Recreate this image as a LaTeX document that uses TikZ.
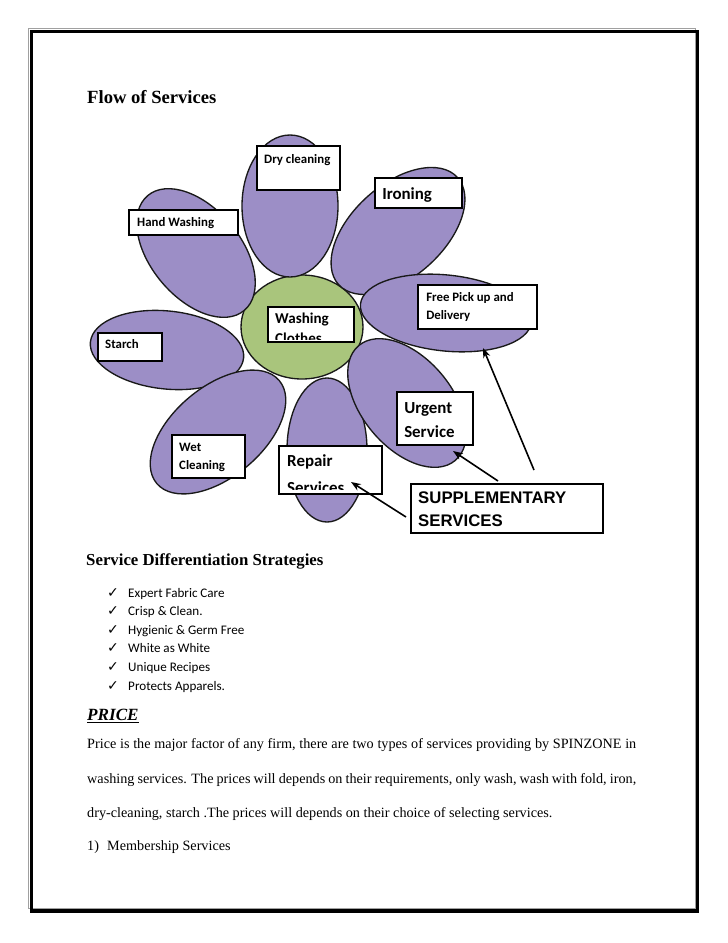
\documentclass[tikz,border=0pt]{standalone}
\usepackage{fontspec}
\setmainfont{Liberation Serif}
\newfontfamily\calibri{Carlito}
\newfontfamily\arialfont{Liberation Sans}
\newfontfamily\symbfont{DejaVu Sans}
\usetikzlibrary{arrows.meta,calc,positioning}
\definecolor{petal}{HTML}{9C8EC6}
\definecolor{core}{HTML}{A9C57C}
\definecolor{framegray}{HTML}{A0A0A0}
\newlength\pxu
\setlength\pxu{0.8171pt}

\begin{document}
\begin{tikzpicture}[x=0.8171pt,y=-0.8171pt,>={Stealth[length=8pt,width=6pt]},
  leaf/.style={draw=black!90,line width=1.1pt,fill=petal},
  tag/.style={draw,line width=1.8pt,fill=white,inner sep=0pt,anchor=north west},
  lblsmall/.style={font=\calibri\bfseries\fontsize{10.5}{13.9}\selectfont,anchor=base west,inner sep=0pt},
  lblmid/.style={font=\calibri\bfseries\fontsize{12.3}{16.3}\selectfont,anchor=base west,inner sep=0pt},
  lblbig/.style={font=\calibri\bfseries\fontsize{13.8}{19.6}\selectfont,anchor=base west,inner sep=0pt},
  txt/.style={anchor=base west,inner sep=0pt}]
  \useasboundingbox (0,0) rectangle (728,943);
  % page frame
  \draw[framegray,line width=0.8pt] (28.5,28.5) rectangle (695,908);
  \draw[line width=2.9pt] (31.5,31.5) rectangle (697.5,911);

  \node[txt,font=\bfseries\fontsize{15.2}{17}\selectfont] (title) at (87,103) {Flow of Services};

  % flower
  \draw[leaf,fill=core] (302,327) ellipse (61 and 52);
  \draw[leaf] (290,206) ellipse (48 and 71);
  \draw[leaf,rotate around={42:(398,231)}] (398,231) ellipse (80 and 46);
  \draw[leaf,rotate around={-50:(196,253)}] (196,253) ellipse (75 and 45);
  \draw[leaf,rotate around={-6:(167,350)}] (167,350) ellipse (77 and 39);
  \draw[leaf,rotate around={40:(218,432)}] (218,432) ellipse (80 and 45);
  \draw[leaf] (327,450) ellipse (40 and 72);
  \draw[leaf,rotate around={-6:(446,313)}] (446,313) ellipse (86 and 38);
  \draw[leaf,rotate around={-50:(407,403)}] (407,403) ellipse (75 and 45);

  % label boxes
  \node[tag,minimum width=83*\pxu,minimum height=44*\pxu] (dry) at (256,145) {};
  \node[lblsmall] (dryt) at (264,163) {Dry cleaning};
  \node[tag,minimum width=87*\pxu,minimum height=30*\pxu] (iron) at (374,177) {};
  \node[lblbig] (iront) at (382,199) {Ironing};
  \node[tag,minimum width=109*\pxu,minimum height=25*\pxu] (hand) at (128,209) {};
  \node[lblsmall] (handt) at (137,226) {Hand Washing};
  \node[tag,minimum width=86*\pxu,minimum height=35*\pxu] (wash) at (267,306) {};
  \begin{scope}
    \clip (268,307) rectangle (352,339);
    \node[lblmid,align=left] (washt) at (275,343) {Washing\\Clothes};
  \end{scope}
  \node[tag,minimum width=64*\pxu,minimum height=28*\pxu] (starch) at (97,332) {};
  \node[lblsmall] (starcht) at (105,348) {Starch};
  \node[tag,minimum width=119*\pxu,minimum height=44*\pxu] (pick) at (417,284) {};
  \node[lblsmall,align=left] (pickt) at (426,319) {Free Pick up and\\Delivery};
  \node[tag,minimum width=73*\pxu,minimum height=43*\pxu] (wet) at (171,434) {};
  \node[lblsmall,align=left,font=\calibri\bfseries\fontsize{10.5}{14.7}\selectfont] (wett) at (179,469) {Wet\\Cleaning};
  \node[tag,minimum width=103*\pxu,minimum height=48*\pxu] (repair) at (278,445) {};
  \begin{scope}
    \clip (279,446) rectangle (380,489);
    \node[lblbig,align=left,font=\calibri\bfseries\fontsize{13.8}{22}\selectfont] (repairt) at (287,493) {Repair\\Services};
  \end{scope}
  \node[tag,minimum width=76*\pxu,minimum height=53*\pxu] (urgent) at (396,391) {};
  \node[lblbig,align=left] (urgentt) at (404,437) {Urgent\\Service};
  \node[tag,minimum width=192*\pxu,minimum height=49*\pxu] (supp) at (410,483) {};
  \node[txt,align=left,font=\arialfont\bfseries\fontsize{13.7}{18}\selectfont] (suppt) at (418,526) {SUPPLEMENTARY\\SERVICES};

  % arrows
  \coordinate (tailA) at (406,517); \coordinate (tipA) at (351,482);
  \coordinate (tailB) at (498,481); \coordinate (tipB) at (453,451);
  \coordinate (tailC) at (534,470); \coordinate (tipC) at (483,348);
  \draw[->,line width=1.3pt] (tailA) -- (tipA);
  \draw[->,line width=1.3pt] (tailB) -- (tipB);
  \draw[->,line width=1.3pt] (tailC) -- (tipC);

  % strategies
  \node[txt,font=\bfseries\fontsize{13.7}{16}\selectfont] (strat) at (86,565) {Service Differentiation Strategies};
  \foreach \t [count=\i] in {Expert Fabric Care,Crisp \& Clean.,Hygienic \& Germ Free,White as White,Unique Recipes,Protects Apparels.}{
    \node[txt,font=\symbfont\fontsize{11.5}{12}\selectfont] (chk\i) at (107,{597+(\i-1)*18.6}) {✓};
    \node[txt,font=\calibri\fontsize{10.7}{12}\selectfont] (item\i) at (128,{597+(\i-1)*18.6}) {\t};
  }

  % price
  \node[txt,font=\bfseries\itshape\fontsize{14}{16}\selectfont] (price) at (87,720) {\underline{PRICE}};
  \node[txt,font=\fontsize{11.6}{14}\selectfont] (p1) at (87,748) {\makebox[448.6pt][s]{Price is the major factor of any firm, there are two types of services providing by SPINZONE in}};
  \node[txt,font=\fontsize{11.6}{14}\selectfont] (p2) at (87,783) {\makebox[448.6pt][s]{washing services. The prices will depends on their requirements, only wash, wash with fold, iron,}};
  \node[txt,font=\fontsize{11.6}{14}\selectfont] (p3) at (87,817) {dry-cleaning, starch .The prices will depends on their choice of selecting services.};
  \node[txt,font=\fontsize{11.6}{14}\selectfont] (m1) at (87,850) {1)};
  \node[txt,font=\fontsize{11.6}{14}\selectfont] (m1t) at (107,850) {Membership Services};
\end{tikzpicture}
\end{document}
